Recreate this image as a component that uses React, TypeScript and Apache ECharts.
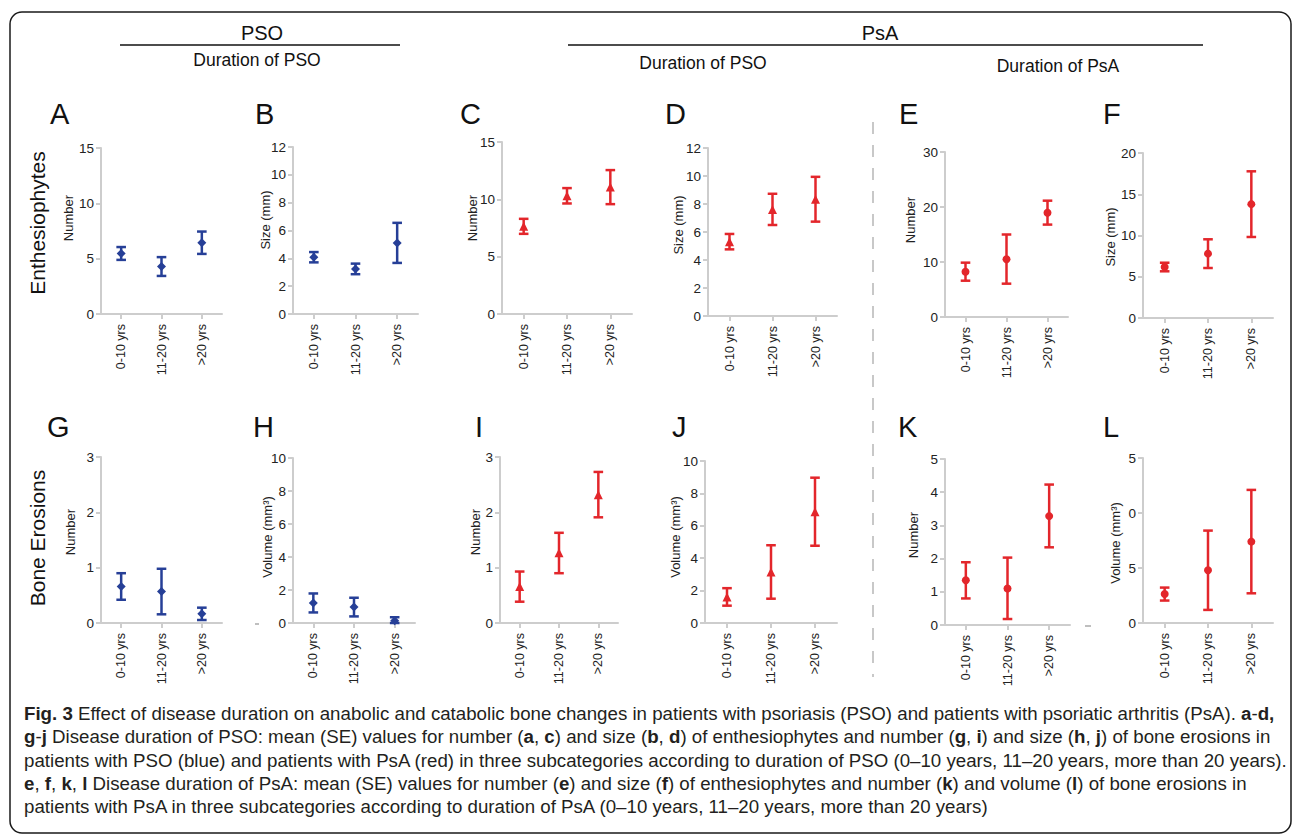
import React, { useEffect, useRef } from "react";
import * as echarts from "echarts";

const categories = ["0-10 yrs", "11-20 yrs", ">20 yrs"];

// Enthesiophytes, PSO patients (blue)
const aMean = [5.47, 4.29, 6.44];
const aLow = [4.89, 3.44, 5.43];
const aHigh = [6.05, 5.14, 7.45];
const bMean = [4.08, 3.24, 5.11];
const bLow = [3.71, 2.86, 3.67];
const bHigh = [4.45, 3.62, 6.55];
// Enthesiophytes, PsA patients by PSO duration (red)
const cMean = [7.65, 10.31, 11.07];
const cLow = [6.99, 9.64, 9.58];
const cHigh = [8.3, 10.98, 12.55];
const dMean = [5.31, 7.6, 8.34];
const dLow = [4.76, 6.5, 6.74];
const dHigh = [5.86, 8.73, 9.94];
// Enthesiophytes, PsA patients by PsA duration (red)
const eMean = [8.24, 10.5, 18.97];
const eLow = [6.6, 6.06, 16.8];
const eHigh = [9.88, 15.0, 21.15];
const fMean = [6.18, 7.8, 13.8];
const fLow = [5.66, 6.06, 9.82];
const fHigh = [6.7, 9.54, 17.78];
// Bone erosions, PSO patients (blue)
const gMean = [0.66, 0.57, 0.165];
const gLow = [0.42, 0.157, 0.054];
const gHigh = [0.9, 0.98, 0.277];
const hMean = [1.21, 0.97, 0.14];
const hLow = [0.64, 0.4, 0.0];
const hHigh = [1.79, 1.53, 0.35];
// Bone erosions, PsA patients by PSO duration (red)
const iMean = [0.66, 1.27, 2.32];
const iLow = [0.385, 0.9, 1.91];
const iHigh = [0.93, 1.63, 2.73];
const jMean = [1.61, 3.15, 6.87];
const jLow = [1.07, 1.5, 4.77];
const jHigh = [2.15, 4.8, 8.97];
// Bone erosions, PsA patients by PsA duration (red)
const kMean = [1.35, 1.1, 3.28];
const kLow = [0.8, 0.18, 2.34];
const kHigh = [1.89, 2.03, 4.23];
const lMean = [2.63, 4.8, 7.4];
const lLow = [2.04, 1.19, 2.7];
const lHigh = [3.22, 8.4, 12.1];

const lTickLabels = ["0", "5", "0", "5"];

const BLUE = "#263f97";
const RED = "#e3262b";
const AXIS = "#cdcdcd";
const FONT = "'Liberation Sans', Arial, Helvetica, sans-serif";

type Panel = {
  letter: string;
  box: [number, number, number, number];
  color: string;
  symbol: string;
  max: number;
  interval: number;
  name: string;
  mean: number[];
  low: number[];
  high: number[];
  letterPos: [number, number];
  namePos: [number, number];
  ticks?: string[];
};

const panels: Panel[] = [
  { letter: "A", box: [101, 148, 222, 314], color: BLUE, symbol: "diamond", max: 15, interval: 5, name: "Number", mean: aMean, low: aLow, high: aHigh, letterPos: [50, 114], namePos: [68, 218] },
  { letter: "B", box: [293, 147, 418, 314], color: BLUE, symbol: "diamond", max: 12, interval: 2, name: "Size (mm)", mean: bMean, low: bLow, high: bHigh, letterPos: [255, 114], namePos: [265, 220] },
  { letter: "C", box: [502, 142, 632, 314], color: RED, symbol: "triangle", max: 15, interval: 5, name: "Number", mean: cMean, low: cLow, high: cHigh, letterPos: [460, 114], namePos: [472, 218] },
  { letter: "D", box: [708, 148, 837, 316], color: RED, symbol: "triangle", max: 12, interval: 2, name: "Size (mm)", mean: dMean, low: dLow, high: dHigh, letterPos: [665, 114], namePos: [678, 225] },
  { letter: "E", box: [945, 152, 1068, 317], color: RED, symbol: "circle", max: 30, interval: 10, name: "Number", mean: eMean, low: eLow, high: eHigh, letterPos: [899, 114], namePos: [910, 220] },
  { letter: "F", box: [1143, 153, 1273, 318], color: RED, symbol: "circle", max: 20, interval: 5, name: "Size (mm)", mean: fMean, low: fLow, high: fHigh, letterPos: [1103, 114], namePos: [1110, 237] },
  { letter: "G", box: [101, 457, 222, 623], color: BLUE, symbol: "diamond", max: 3, interval: 1, name: "Number", mean: gMean, low: gLow, high: gHigh, letterPos: [47, 427], namePos: [70, 532] },
  { letter: "H", box: [293, 458, 415, 623], color: BLUE, symbol: "diamond", max: 10, interval: 2, name: "Volume (mm³)", mean: hMean, low: hLow, high: hHigh, letterPos: [253, 427], namePos: [267, 537] },
  { letter: "I", box: [500, 457, 618, 623], color: RED, symbol: "triangle", max: 3, interval: 1, name: "Number", mean: iMean, low: iLow, high: iHigh, letterPos: [475, 427], namePos: [475, 532] },
  { letter: "J", box: [705, 461, 837, 623], color: RED, symbol: "triangle", max: 10, interval: 2, name: "Volume (mm³)", mean: jMean, low: jLow, high: jHigh, letterPos: [672, 427], namePos: [675, 537] },
  { letter: "K", box: [945, 459, 1070, 625], color: RED, symbol: "circle", max: 5, interval: 1, name: "Number", mean: kMean, low: kLow, high: kHigh, letterPos: [898, 427], namePos: [913, 535] },
  { letter: "L", box: [1143, 458, 1273, 623], color: RED, symbol: "circle", max: 15, interval: 5, name: "Volume (mm³)", mean: lMean, low: lLow, high: lHigh, letterPos: [1103, 427], namePos: [1115, 543], ticks: lTickLabels },
];

const captionLines = [
  "{b|Fig. 3} Effect of disease duration on anabolic and catabolic bone changes in patients with psoriasis (PSO) and patients with psoriatic arthritis (PsA). {b|a}-{b|d,}",
  "{b|g}-{b|j} Disease duration of PSO: mean (SE) values for number ({b|a}, {b|c}) and size ({b|b}, {b|d}) of enthesiophytes and number ({b|g}, {b|i}) and size ({b|h}, {b|j}) of bone erosions in",
  "patients with PSO (blue) and patients with PsA (red) in three subcategories according to duration of PSO (0–10 years, 11–20 years, more than 20 years).",
  "{b|e}, {b|f}, {b|k}, {b|l} Disease duration of PsA: mean (SE) values for number ({b|e}) and size ({b|f}) of enthesiophytes and number ({b|k}) and volume ({b|l}) of bone erosions in",
  "patients with PsA in three subcategories according to duration of PsA (0–10 years, 11–20 years, more than 20 years)",
];
const captionY = [713, 736, 760, 783, 806];

function buildOption() {
  const grid: any[] = [];
  const xAxis: any[] = [];
  const yAxis: any[] = [];
  const series: any[] = [];
  const graphic: any[] = [];

  panels.forEach((p, i) => {
    const [x1, y1, x2, y2] = p.box;
    grid.push({ left: x1, top: y1, width: x2 - x1, height: y2 - y1, outerBoundsMode: "none", containLabel: false });
    xAxis.push({
      type: "category",
      gridIndex: i,
      data: categories,
      axisLine: { show: true, lineStyle: { color: AXIS, width: 2 } },
      axisTick: { show: true, alignWithLabel: true, length: 5, lineStyle: { color: AXIS, width: 2 } },
      axisLabel: { rotate: 90, interval: 0, fontSize: 12.5, margin: 10, color: "#222", fontFamily: FONT },
      splitLine: { show: false },
    });
    const ticks = p.ticks;
    yAxis.push({
      type: "value",
      gridIndex: i,
      min: 0,
      max: p.max,
      interval: p.interval,
      axisLine: { show: true, lineStyle: { color: AXIS, width: 2 } },
      axisTick: { show: true, length: 5, lineStyle: { color: AXIS, width: 2 } },
      splitLine: { show: false },
      axisLabel: {
        fontSize: 13.5,
        margin: 7,
        color: "#222",
        fontFamily: FONT,
        formatter: ticks ? (v: number) => ticks[Math.round(v / p.interval)] ?? String(v) : undefined,
      },
    });
    const color = p.color;
    series.push({
      type: "custom",
      xAxisIndex: i,
      yAxisIndex: i,
      data: p.low.map((lo, k) => [k, lo, p.high[k]]),
      encode: { x: 0, y: [1, 2] },
      renderItem: (params: any, api: any) => {
        const k = api.value(0);
        const top = api.coord([k, api.value(2)]);
        const bot = api.coord([k, api.value(1)]);
        const cw = 4.8;
        const st = { stroke: color, lineWidth: 2.5 };
        return {
          type: "group",
          children: [
            { type: "line", shape: { x1: top[0], y1: top[1], x2: bot[0], y2: bot[1] }, style: st },
            { type: "line", shape: { x1: top[0] - cw, y1: top[1], x2: top[0] + cw, y2: top[1] }, style: st },
            { type: "line", shape: { x1: bot[0] - cw, y1: bot[1], x2: bot[0] + cw, y2: bot[1] }, style: st },
          ],
        };
      },
      silent: true,
      z: 2,
    });
    series.push({
      type: "scatter",
      xAxisIndex: i,
      yAxisIndex: i,
      data: p.mean.map((m, k) => [k, m]),
      symbol: p.symbol,
      symbolSize: p.symbol === "circle" ? 8 : 9,
      itemStyle: { color, opacity: 1 },
      silent: true,
      z: 3,
    });
    graphic.push({
      type: "text",
      x: p.letterPos[0],
      y: p.letterPos[1],
      style: { text: p.letter, fontSize: 29, fontFamily: FONT, fill: "#111", align: "left", verticalAlign: "middle" },
    });
    graphic.push({
      type: "text",
      x: p.namePos[0],
      y: p.namePos[1],
      rotation: Math.PI / 2,
      style: { text: p.name, fontSize: 13, fontFamily: FONT, fill: "#222", align: "center", verticalAlign: "middle" },
    });
  });

  // Border
  graphic.push({
    type: "rect",
    shape: { x: 10, y: 12, width: 1281, height: 821, r: 12 },
    style: { fill: "none", stroke: "#1a1a1a", lineWidth: 1.5 },
    z: -1,
  });
  // Header
  const header = [
    { t: "PSO", x: 262, y: 33, s: 20 },
    { t: "Duration of PSO", x: 257, y: 60, s: 17.5 },
    { t: "PsA", x: 880, y: 33, s: 20 },
    { t: "Duration of PSO", x: 703, y: 63, s: 17.5 },
    { t: "Duration of PsA", x: 1058, y: 66, s: 17.5 },
  ];
  header.forEach((h) =>
    graphic.push({
      type: "text",
      x: h.x,
      y: h.y,
      style: { text: h.t, fontSize: h.s, fontFamily: FONT, fill: "#111", align: "center", verticalAlign: "middle" },
    })
  );
  graphic.push({ type: "line", shape: { x1: 120, y1: 45, x2: 400, y2: 45 }, style: { stroke: "#111", lineWidth: 1.5 } });
  graphic.push({ type: "line", shape: { x1: 568, y1: 45, x2: 1203, y2: 45 }, style: { stroke: "#111", lineWidth: 1.5 } });
  // Row labels
  graphic.push({
    type: "text",
    x: 37,
    y: 223,
    rotation: Math.PI / 2,
    style: { text: "Enthesiophytes", fontSize: 21, fontFamily: FONT, fill: "#111", align: "center", verticalAlign: "middle" },
  });
  graphic.push({
    type: "text",
    x: 37,
    y: 538,
    rotation: Math.PI / 2,
    style: { text: "Bone Erosions", fontSize: 21, fontFamily: FONT, fill: "#111", align: "center", verticalAlign: "middle" },
  });
  // Dashed separator
  graphic.push({
    type: "line",
    shape: { x1: 873, y1: 122, x2: 873, y2: 677 },
    style: { stroke: "#c8c8c8", lineWidth: 2, lineDash: [12, 11] },
  });
  // Small stray marks
  graphic.push({ type: "line", shape: { x1: 255, y1: 624, x2: 259, y2: 624 }, style: { stroke: "#aaa", lineWidth: 1.5 } });
  graphic.push({ type: "line", shape: { x1: 1085, y1: 626, x2: 1091, y2: 626 }, style: { stroke: "#aaa", lineWidth: 1.5 } });
  // Caption
  captionLines.forEach((line, k) =>
    graphic.push({
      type: "text",
      x: 24,
      y: captionY[k],
      style: {
        text: line,
        fontSize: 18.7,
        fontFamily: FONT,
        fill: "#231f20",
        align: "left",
        verticalAlign: "middle",
        rich: { b: { fontSize: 18.7, fontFamily: FONT, fontWeight: "bold", fill: "#231f20" } },
      },
    })
  );

  return { animation: false, backgroundColor: "#ffffff", grid, xAxis, yAxis, series, graphic };
}

export default function App() {
  const ref = useRef<HTMLDivElement>(null);
  useEffect(() => {
    if (!ref.current) return;
    const chart = echarts.init(ref.current, undefined, { renderer: "svg" });
    chart.setOption(buildOption() as any);
    return () => chart.dispose();
  }, []);
  return (
    <div
      ref={ref}
      style={{ position: "fixed", left: 0, top: 0, width: 1293, height: 837, background: "#fff" }}
    />
  );
}
